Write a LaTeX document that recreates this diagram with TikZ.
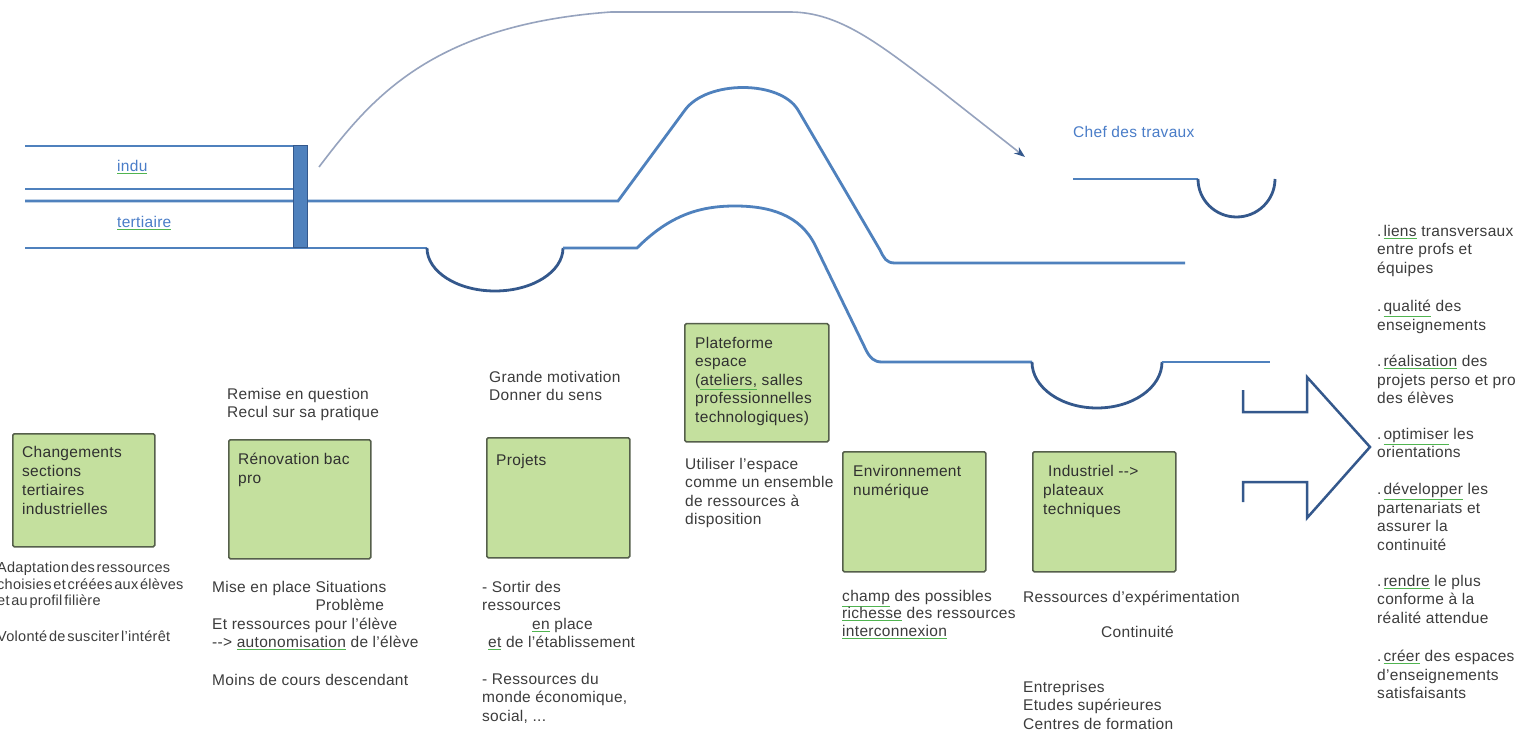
\documentclass[tikz,border=0pt]{standalone}
\usepackage{fontspec}
\setmainfont{Liberation Sans}[LetterSpace=2]
\usepackage{xcolor}
\usetikzlibrary{arrows.meta,positioning}

\definecolor{roadblue}{RGB}{79,129,189}
\definecolor{dipblue}{RGB}{52,88,140}
\definecolor{arcgray}{RGB}{150,163,190}
\definecolor{boxgreen}{RGB}{196,224,158}
\definecolor{boxline}{RGB}{85,95,75}
\definecolor{txtgray}{RGB}{60,60,60}
\definecolor{spellgreen}{RGB}{80,180,80}
\definecolor{chefblue}{RGB}{74,125,200}

% green spell-check underline, text keeps its colour
\newcommand{\spell}[1]{\begingroup\colorlet{outertxt}{.}\color{spellgreen}\underline{\color{outertxt}#1}\endgroup}
% narrow word spaces for the squeezed note
\newcommand{\tightwords}{\spaceskip=1.8pt\relax}
% bullet dot of the outcome list
\newcommand{\dotitem}{.\hspace{2pt}}

\begin{document}
\begin{tikzpicture}[x=1pt, y=-1pt,
    road/.style={draw=roadblue, line width=2.8pt},
    dip/.style={draw=dipblue, line width=2.8pt},
    arcline/.style={draw=arcgray, line width=1.6pt, -{Stealth[length=11pt, width=8pt, color=dipblue]}},
    gatebar/.style={rectangle, draw=dipblue, fill=roadblue, line width=1.2pt, minimum width=14pt, minimum height=102pt, inner sep=0},
    greenbox/.style={rectangle, draw=boxline, fill=boxgreen, line width=1.5pt, rounded corners=1.5pt, anchor=north west, minimum width=143pt, minimum height=120pt, inner sep=0},
    % coordinates of text nodes give the baseline of their first line
    firstline/.style={align=left, inner sep=0, anchor=north west, yshift=12pt, execute at begin node={\rule{0pt}{12pt}}},
    boxtext/.style={firstline, font=\fontsize{15.5}{19}\selectfont, text=txtgray!80!black},
    note/.style={firstline, font=\fontsize{15.5}{18.5}\selectfont, text=txtgray},
    smallnote/.style={firstline, font=\fontsize{14.5}{16.5}\selectfont\tightwords, text=txtgray},
    roadlabel/.style={font=\fontsize{15.5}{18}\selectfont, text=chefblue, inner sep=0, anchor=base west}
]
\useasboundingbox (0,0) rectangle (1524,735);
\fill[white] (0,0) rectangle (1524,735);

% Roads on the left
\draw[road] (25,146) -- (293,146);
\draw[road] (25,189) -- (293,189);
\draw[road] (25,201) -- (618,201) -- (685,110)
    .. controls (707,80) and (780,80) .. (798,110) -- (880,250)
    .. controls (884,258) and (886,263) .. (895,263) -- (1185,263);
\draw[road] (25,248) -- (427,248);
\draw[dip] (427,248) arc[start angle=180, end angle=0, x radius=68, y radius=43];
\draw[road] (563,248) -- (637,248)
    .. controls (670,215) and (700,206) .. (735,206)
    .. controls (770,206) and (800,215) .. (815,245) -- (866,350)
    .. controls (870,358) and (874,362) .. (882,362) -- (1032,362);
\draw[dip] (1032,362) arc[start angle=180, end angle=0, x radius=65, y radius=46];
\draw[road] (1162,362) -- (1270,362);

% Chef des travaux road
\draw[road] (1073,179) -- (1198,179);
\draw[dip] (1198,179) arc[start angle=180, end angle=0, x radius=38.5, y radius=38];

\node[gatebar] (gate) at (300.5,196.5) {};

\node[roadlabel] (indu) at (117,172) {\spell{indu}};
\node[roadlabel] (tertiaire) at (117,228) {\spell{tertiaire}};
\node[roadlabel] (chef) at (1073,138) {Chef des travaux};

% Curved arrow over the roads
\coordinate (arcstart) at (319,167);
\coordinate (arcend) at (1025,157);
\draw[arcline] (arcstart) .. controls (370,100) and (430,25) .. (611,12) -- (790,12)
    .. controls (840,12) and (880,45) .. (936,87) -- (arcend);

% Big open arrow
\draw[dip, line width=2.5pt, line join=miter] (1243,390) -- (1243,412) -- (1307,412) -- (1307,377)
    -- (1370,447) -- (1307,518) -- (1307,482) -- (1243,482) -- (1243,502);

% Green boxes
\node[greenbox, minimum width=142pt, minimum height=113pt] (chg) at (12,433) {};
\node[greenbox, minimum width=142pt, minimum height=119pt] (renov) at (228,439) {};
\node[greenbox] (proj) at (486,437) {};
\node[greenbox, minimum width=144pt, minimum height=118pt] (plat) at (684,323) {};
\node[greenbox] (env) at (842,451) {};
\node[greenbox] (indus) at (1032,451) {};

\node[boxtext] (chgtxt) at (22,458) {Changements\\sections\\tertiaires\\industrielles};
\node[boxtext] (renovtxt) at (238,465) {Rénovation bac\\pro};
\node[boxtext] (projtxt) at (496,465) {Projets};
\node[boxtext, font=\fontsize{15.5}{18.5}\selectfont] (plattxt) at (695,349) {Plateforme\\espace\\(\spell{ateliers,} salles\\professionnelles\\technologiques)};
\node[boxtext] (envtxt) at (853,477) {Environnement\\numérique};
\node[boxtext] (industxt) at (1043,477) {\hspace*{5pt}Industriel -{}-{}>\\plateaux\\techniques};

% Notes around the boxes
\node[note, font=\fontsize{15.5}{18}\selectfont] (remise) at (227,400) {Remise en question\\Recul sur sa pratique};
\node[smallnote] (adapt) at (-3,574) {Adaptation des ressources\\choisies et créées aux élèves\\et au profil filière};
\node[smallnote] (volonte) at (-3,641) {Volonté de susciter l'intérêt};
\node[note] (mise) at (212,593) {Mise en place Situations\\\hphantom{Mise en place }Problème\\Et ressources pour l'élève\\-{}-{}> \spell{autonomisation} de l'élève};
\node[note] (moins) at (212,685) {Moins de cours descendant};
\node[note, font=\fontsize{15.5}{18}\selectfont] (grande) at (489,383) {Grande motivation\\Donner du sens};
\node[note] (sortir) at (482,593) {- Sortir des\\ressources\\\hspace*{50pt}\spell{en} place\\\hspace*{6pt}\spell{et} de l'établissement};
\node[note] (monde) at (482,685) {- Ressources du\\monde économique,\\social, ...};
\node[note] (utiliser) at (685,470) {Utiliser l'espace\\comme un ensemble\\de ressources à\\disposition};
\node[note, font=\fontsize{15.5}{17.5}\selectfont] (champ) at (842,602) {\spell{champ} des possibles\\\spell{richesse} des ressources\\\spell{interconnexion}};
\node[note] (exper) at (1023,602) {Ressources d'expérimentation};
\node[note] (contin) at (1101,637) {Continuité};
\node[note] (entre) at (1023,693) {Entreprises\\Etudes supérieures\\Centres de formation};

% Outcomes on the right
\node[note] (liens) at (1377,237) {\dotitem\spell{liens} transversaux\\entre profs et\\équipes};
\node[note] (qualite) at (1377,312) {\dotitem\spell{qualité} des\\enseignements};
\node[note] (realis) at (1377,367) {\dotitem\spell{réalisation} des\\projets perso et pro\\des élèves};
\node[note] (optim) at (1377,440) {\dotitem\spell{optimiser} les\\orientations};
\node[note] (devel) at (1377,495) {\dotitem\spell{développer} les\\partenariats et\\assurer la\\continuité};
\node[note] (rendre) at (1377,587) {\dotitem\spell{rendre} le plus\\conforme à la\\réalité attendue};
\node[note] (creer) at (1377,662) {\dotitem\spell{créer} des espaces\\d'enseignements\\satisfaisants};

\end{tikzpicture}
\end{document}
